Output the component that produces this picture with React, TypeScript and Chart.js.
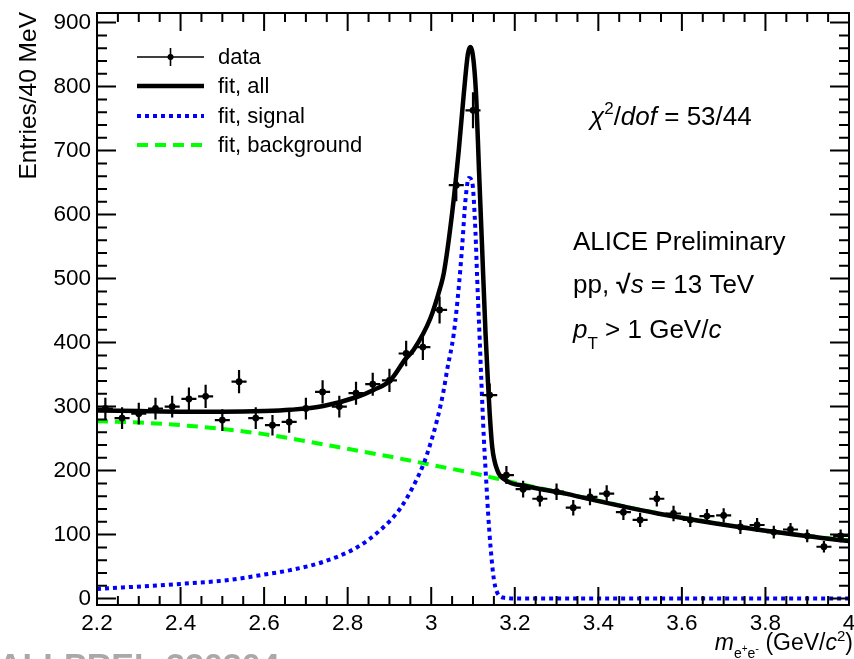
import React, { useEffect, useRef } from "react";
import { Chart, registerables } from "chart.js";

Chart.register(...registerables);

const FONT = "'Liberation Sans', Arial, Helvetica, sans-serif";

// Invariant-mass bins (40 MeV wide), bin centres in GeV/c^2
const binCenters = [
  2.22, 2.26, 2.30, 2.34, 2.38, 2.42, 2.46, 2.50, 2.54, 2.58,
  2.62, 2.66, 2.70, 2.74, 2.78, 2.82, 2.86, 2.90, 2.94, 2.98,
  3.02, 3.06, 3.10, 3.14, 3.18, 3.22, 3.26, 3.30, 3.34, 3.38,
  3.42, 3.46, 3.50, 3.54, 3.58, 3.62, 3.66, 3.70, 3.74, 3.78,
  3.82, 3.86, 3.90, 3.94, 3.98,
];
const counts = [
  297, 282, 289, 297, 300, 312, 316, 279, 339, 282,
  271, 276, 297, 323, 300, 321, 335, 341, 383, 393,
  451, 646, 763, 318, 193, 171, 156, 167, 142, 159,
  164, 135, 123, 156, 133, 123, 129, 130, 112, 115,
  104, 108, 98, 81, 98,
];
const countErrors = [
  17, 17, 17, 17, 17, 18, 18, 17, 18, 17,
  16, 17, 17, 18, 17, 18, 18, 18, 20, 20,
  21, 25, 28, 18, 14, 13, 12, 13, 12, 13,
  13, 12, 11, 12, 12, 11, 11, 11, 11, 11,
  10, 10, 10, 9, 10,
];
const barHalfWidth = 0.018;

// Total fit (signal + background)
const fitAllX = [
  2.2, 2.3, 2.4, 2.5, 2.6, 2.663, 2.742, 2.822, 2.862, 2.902,
  2.938, 2.958, 2.998, 3.022, 3.03, 3.05, 3.066, 3.078, 3.088, 3.094,
  3.102, 3.108, 3.114, 3.122, 3.13, 3.136, 3.14, 3.146, 3.158, 3.178,
  3.226, 3.322, 3.382, 3.542, 3.745, 3.945, 4.0,
];
const fitAllY = [
  294, 293, 292, 292, 293, 295, 301, 315, 326, 341,
  374, 389, 438, 487, 508, 602, 701, 789, 852, 862,
  836, 779, 675, 545, 414, 336, 289, 237, 201, 185,
  176, 164, 155, 133, 111, 94, 90,
];

// Signal component
const signalX = [
  2.2, 2.4, 2.515, 2.595, 2.663, 2.742, 2.822, 2.878, 2.926, 2.962,
  2.982, 2.998, 3.014, 3.03, 3.038, 3.054, 3.066, 3.074, 3.082, 3.09,
  3.098, 3.106, 3.11, 3.116, 3.12, 3.126, 3.132, 3.136, 3.142, 3.15,
  3.162, 3.178, 3.2, 3.5, 4.0,
];
const signalY = [
  15, 23, 29, 37, 44.5, 57.5, 80, 107, 141, 182,
  211, 242, 279, 326, 357, 414, 487, 550, 623, 657,
  651, 571, 500, 405, 340, 250, 180, 135, 81, 30,
  5, 1, 0, 0, 0,
];

// Background component
const bkgX = [2.2, 2.3, 2.4, 2.5, 2.6, 2.7, 2.8, 2.9, 3.0, 3.1, 3.2, 3.3, 3.4, 3.5, 3.6, 3.7, 3.8, 3.9, 4.0];
const bkgY = [277, 275, 271, 265, 257, 246, 234, 222, 209, 196, 181, 167, 153, 139, 127, 116, 106, 98, 91];

const xTickValues = [2.2, 2.4, 2.6, 2.8, 3.0, 3.2, 3.4, 3.6, 3.8, 4.0];
const xTickLabels = ["2.2", "2.4", "2.6", "2.8", "3", "3.2", "3.4", "3.6", "3.8", "4"];
const yTickValues = [0, 100, 200, 300, 400, 500, 600, 700, 800, 900];
const yTickLabels = ["0", "100", "200", "300", "400", "500", "600", "700", "800", "900"];

const xMin = 2.2;
const xMax = 4.0;
const yMin = -10;
const yMax = 915;

const zip = (xs: number[], ys: number[]) => xs.map((x, i) => ({ x, y: ys[i] }));

type Seg = { t: string; size: number; italic?: boolean; bold?: boolean; dy?: number };

function segFont(s: Seg) {
  return `${s.italic ? "italic " : ""}${s.bold ? "bold " : ""}${s.size}px ${FONT}`;
}

function drawRich(ctx: CanvasRenderingContext2D, x: number, y: number, segs: Seg[], align: "left" | "right" = "left") {
  ctx.textAlign = "left";
  ctx.textBaseline = "alphabetic";
  let total = 0;
  for (const s of segs) {
    ctx.font = segFont(s);
    total += ctx.measureText(s.t).width;
  }
  let cx = align === "right" ? x - total : x;
  for (const s of segs) {
    ctx.font = segFont(s);
    ctx.fillText(s.t, cx, y + (s.dy || 0));
    cx += ctx.measureText(s.t).width;
  }
}

const errorBarPlugin = {
  id: "errorBars",
  afterDatasetsDraw(chart: any) {
    const { ctx, chartArea: a, scales } = chart;
    const xs = scales.x;
    const ys = scales.y;
    ctx.save();
    ctx.beginPath();
    ctx.rect(a.left, a.top, a.right - a.left, a.bottom - a.top);
    ctx.clip();
    ctx.strokeStyle = "#000";
    ctx.lineWidth = 2.2;
    ctx.beginPath();
    for (let i = 0; i < binCenters.length; i++) {
      const px = xs.getPixelForValue(binCenters[i]);
      const py = ys.getPixelForValue(counts[i]);
      ctx.moveTo(xs.getPixelForValue(binCenters[i] - barHalfWidth), py);
      ctx.lineTo(xs.getPixelForValue(binCenters[i] + barHalfWidth), py);
      ctx.moveTo(px, ys.getPixelForValue(counts[i] - countErrors[i]));
      ctx.lineTo(px, ys.getPixelForValue(counts[i] + countErrors[i]));
    }
    ctx.stroke();
    ctx.restore();
  },
};

const framePlugin = {
  id: "frame",
  afterDatasetsDraw(chart: any) {
    const { ctx, chartArea: a, scales } = chart;
    const xs = scales.x;
    const ys = scales.y;
    ctx.save();
    ctx.strokeStyle = "#000";
    ctx.lineWidth = 2;
    ctx.strokeRect(a.left, a.top, a.right - a.left, a.bottom - a.top);
    ctx.beginPath();
    const xTick = (v: number, len: number) => {
      const p = xs.getPixelForValue(v);
      ctx.moveTo(p, a.bottom);
      ctx.lineTo(p, a.bottom - len);
      ctx.moveTo(p, a.top);
      ctx.lineTo(p, a.top + len);
    };
    const yTick = (v: number, len: number) => {
      const p = ys.getPixelForValue(v);
      ctx.moveTo(a.left, p);
      ctx.lineTo(a.left + len, p);
      ctx.moveTo(a.right, p);
      ctx.lineTo(a.right - len, p);
    };
    for (let k = 0; k < xTickValues.length; k++) {
      xTick(xTickValues[k], 18);
      if (k < xTickValues.length - 1) {
        const step = (xTickValues[k + 1] - xTickValues[k]) / 4;
        for (let j = 1; j < 4; j++) xTick(xTickValues[k] + j * step, 9);
      }
    }
    for (let k = 0; k < yTickValues.length; k++) {
      yTick(yTickValues[k], 19);
      if (k < yTickValues.length - 1) {
        const step = (yTickValues[k + 1] - yTickValues[k]) / 5;
        for (let j = 1; j < 5; j++) yTick(yTickValues[k] + j * step, 10);
      }
    }
    ctx.stroke();
    ctx.restore();
  },
};

const textPlugin = {
  id: "texts",
  afterDraw(chart: any) {
    const { ctx } = chart;
    const ds = chart.data.datasets;
    ctx.save();
    ctx.fillStyle = "#000";

    // legend
    const lx0 = 137;
    const lx1 = 204;
    const rows = [57, 86, 116, 145];
    ctx.lineCap = "butt";
    // data sample
    ctx.strokeStyle = "#000";
    ctx.lineWidth = 1.6;
    ctx.beginPath();
    ctx.moveTo(lx0, rows[0]);
    ctx.lineTo(lx1, rows[0]);
    ctx.moveTo((lx0 + lx1) / 2, rows[0] - 9);
    ctx.lineTo((lx0 + lx1) / 2, rows[0] + 9);
    ctx.stroke();
    ctx.beginPath();
    ctx.arc((lx0 + lx1) / 2, rows[0], 3, 0, Math.PI * 2);
    ctx.fill();
    for (let i = 1; i < 4; i++) {
      ctx.strokeStyle = ds[i].borderColor;
      ctx.lineWidth = ds[i].borderWidth;
      ctx.setLineDash(ds[i].borderDash || []);
      ctx.beginPath();
      ctx.moveTo(lx0, rows[i]);
      ctx.lineTo(lx1, rows[i]);
      ctx.stroke();
    }
    ctx.setLineDash([]);
    ctx.font = `22px ${FONT}`;
    ctx.textAlign = "left";
    ctx.textBaseline = "middle";
    for (let i = 0; i < 4; i++) ctx.fillText(ds[i].label, 218, rows[i] + 1);

    // annotations
    drawRich(ctx, 590, 125, [
      { t: "\u03C7", size: 26, italic: true },
      { t: "2", size: 17, dy: -11 },
      { t: "/", size: 26 },
      { t: "dof", size: 26, italic: true },
      { t: " = 53/44", size: 26 },
    ]);
    drawRich(ctx, 573, 250, [{ t: "ALICE Preliminary", size: 26 }]);
    drawRich(ctx, 573, 293, [
      { t: "pp, ", size: 26 },
      { t: "\u221A", size: 26, bold: true },
      { t: "s", size: 26, italic: true },
      { t: " = 13 TeV", size: 26 },
    ]);
    drawRich(ctx, 573, 338, [
      { t: "p", size: 26, italic: true },
      { t: "T", size: 17, dy: 11 },
      { t: " > 1 GeV/", size: 26 },
      { t: "c", size: 26, italic: true },
    ]);

    // axis titles
    drawRich(
      ctx,
      853,
      650,
      [
        { t: "m", size: 23, italic: true },
        { t: "e", size: 14, dy: 8 },
        { t: "+", size: 10, dy: 2 },
        { t: "e", size: 14, dy: 8 },
        { t: "-", size: 11, dy: 2 },
        { t: " (GeV/", size: 23 },
        { t: "c", size: 23, italic: true },
        { t: "2", size: 15, dy: -9 },
        { t: ")", size: 23 },
      ],
      "right"
    );
    ctx.save();
    ctx.translate(36, 12);
    ctx.rotate(-Math.PI / 2);
    ctx.font = `24.5px ${FONT}`;
    ctx.textAlign = "right";
    ctx.textBaseline = "alphabetic";
    ctx.fillText("Entries/40 MeV", 0, 0);
    ctx.restore();

    // figure id along the bottom edge
    ctx.fillStyle = "#a9a9a9";
    ctx.font = `bold 34px ${FONT}`;
    ctx.textAlign = "left";
    ctx.textBaseline = "alphabetic";
    ctx.fillText("ALI-PREL-320304", -2, 677);
    ctx.restore();
  },
};

export default function App() {
  const ref = useRef<HTMLCanvasElement | null>(null);

  useEffect(() => {
    if (!ref.current) return;
    const chart = new Chart(ref.current, {
      type: "scatter",
      data: {
        datasets: [
          {
            label: "data",
            data: zip(binCenters, counts),
            order: 0,
            pointRadius: 3.4,
            pointBackgroundColor: "#000",
            pointBorderWidth: 0,
            showLine: false,
          } as any,
          {
            type: "line",
            label: "fit, all",
            data: zip(fitAllX, fitAllY),
            order: 1,
            borderColor: "#000000",
            borderWidth: 4.5,
            pointRadius: 0,
            fill: false,
            cubicInterpolationMode: "monotone",
          } as any,
          {
            type: "line",
            label: "fit, signal",
            data: zip(signalX, signalY),
            order: 2,
            borderColor: "#0000ff",
            borderWidth: 4,
            borderDash: [4, 4],
            pointRadius: 0,
            fill: false,
            cubicInterpolationMode: "monotone",
          } as any,
          {
            type: "line",
            label: "fit, background",
            data: zip(bkgX, bkgY),
            order: 3,
            borderColor: "#00ff00",
            borderWidth: 4,
            borderDash: [11, 7],
            pointRadius: 0,
            fill: false,
            cubicInterpolationMode: "monotone",
          } as any,
        ],
      },
      options: {
        responsive: false,
        animation: false,
        devicePixelRatio: 1,
        layout: { padding: { left: 0, top: 13, right: 5, bottom: 0 } },
        plugins: {
          legend: { display: false },
          tooltip: { enabled: false },
        },
        scales: {
          x: {
            type: "linear",
            min: xMin,
            max: xMax,
            grid: { display: false, drawTicks: false },
            border: { display: false },
            ticks: {
              autoSkip: false,
              maxRotation: 0,
              padding: 5,
              color: "#000",
              font: { size: 22.5, family: FONT },
              callback: (_v: any, i: number) => xTickLabels[i],
            },
            afterBuildTicks: (s: any) => {
              s.ticks = xTickValues.map((value) => ({ value }));
            },
            afterFit: (s: any) => {
              s.height = 54;
              s.paddingLeft = 0;
              s.paddingRight = 0;
            },
          },
          y: {
            type: "linear",
            min: yMin,
            max: yMax,
            grid: { display: false, drawTicks: false },
            border: { display: false },
            ticks: {
              autoSkip: false,
              padding: 6,
              color: "#000",
              font: { size: 22.5, family: FONT },
              callback: (_v: any, i: number) => yTickLabels[i],
            },
            afterBuildTicks: (s: any) => {
              s.ticks = yTickValues.map((value) => ({ value }));
            },
            afterFit: (s: any) => {
              s.width = 97;
              s.paddingTop = 0;
              s.paddingBottom = 0;
            },
          },
        },
      } as any,
      plugins: [errorBarPlugin, framePlugin, textPlugin],
    });
    return () => chart.destroy();
  }, []);

  return (
    <div style={{ position: "absolute", left: 0, top: 0, width: 854, height: 659, background: "#fff", overflow: "hidden" }}>
      <canvas ref={ref} width={854} height={659} style={{ display: "block" }} />
    </div>
  );
}
